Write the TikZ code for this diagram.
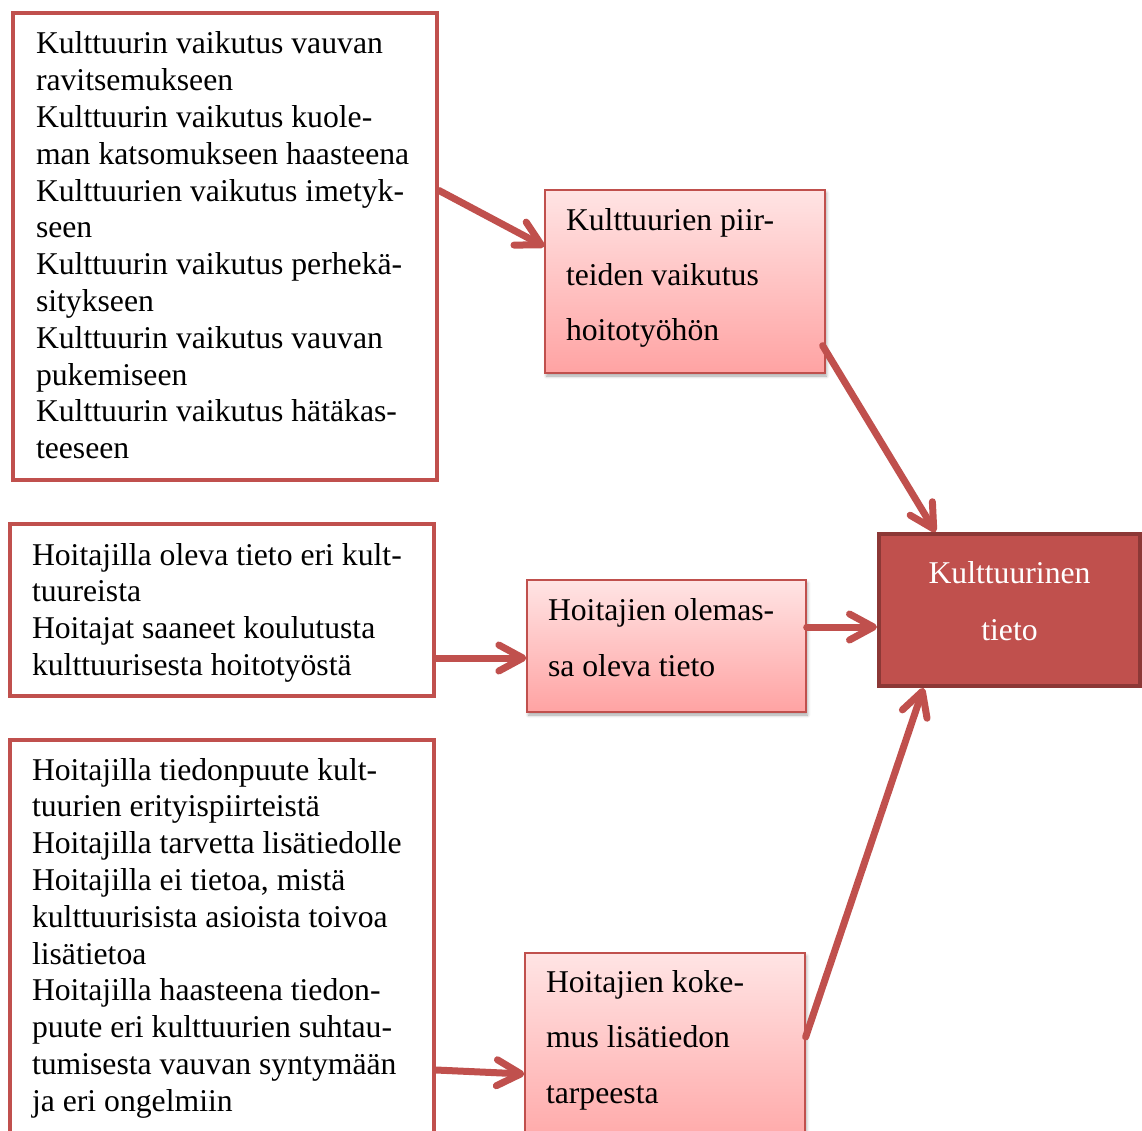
\documentclass[tikz,border=0pt]{standalone}
\usepackage{fontspec}
\setmainfont{Liberation Serif}
\usetikzlibrary{arrows.meta,shadows.blur,calc}
\definecolor{accred}{HTML}{C0504D}
\definecolor{darkred}{HTML}{8C3836}
\definecolor{pinktop}{HTML}{FFE4E4}
\definecolor{pinkbot}{HTML}{FFA3A3}
\newcommand{\mylines}[3]{\parbox[t]{#1pt}{\fontsize{31.7}{#2}\selectfont\raggedright #3}}
\begin{document}
\begin{tikzpicture}[x=1pt,y=-1pt,
  outbox/.style={rectangle, draw=accred, line width=4pt, fill=white, inner sep=0pt},
  midbox/.style={rectangle, draw=accred, line width=1.3pt, top color=pinktop, bottom color=pinkbot, inner sep=0pt,
    blur shadow={shadow xshift=1.5pt, shadow yshift=-3pt, shadow blur radius=3pt, shadow opacity=35}},
  keybox/.style={rectangle, draw=darkred, line width=4pt, fill=accred, inner sep=0pt},
  txt/.style={anchor=base west, inner sep=0pt, outer sep=0pt},
  conn/.style={draw=accred, line width=7pt, line cap=round, -{Straight Barb[length=24pt, width=26pt, round]}}]
\useasboundingbox (0,0) rectangle (1142,1131);
\clip (0,0) rectangle (1142,1131);

% boxes
\node[outbox, minimum width=424pt, minimum height=467pt] (b1) at (225,246.5) {};
\node[outbox, minimum width=424pt, minimum height=172pt] (b2) at (222,610) {};
\node[outbox, minimum width=424pt, minimum height=420pt] (b3) at (222,950) {};
\node[midbox, minimum width=280pt, minimum height=183pt] (A) at (685,281.5) {};
\node[midbox, minimum width=279pt, minimum height=132pt] (B) at (666.5,646) {};
\node[midbox, minimum width=280pt, minimum height=207pt] (C) at (665,1056.5) {};
\node[keybox, minimum width=261pt, minimum height=152pt] (K) at (1009.5,610) {};

% connectors
\draw[conn] ([yshift=56pt]b1.east) -- ([yshift=35pt]A.west);
\draw[conn] ([shift={(-3pt,28pt)}]A.south east) -- ([xshift=-74pt]K.north);
\draw[conn] ([yshift=-48pt]b2.east) -- ([yshift=-12pt]B.west);
\draw[conn] ([yshift=19pt]B.east) -- ([yshift=-17pt]K.west);
\draw[conn] ([yshift=-120pt]b3.east) -- ([yshift=-17.5pt]C.west);
\draw[conn] ([yshift=19.5pt]C.east) -- ([xshift=-86pt]K.south);

% texts
\node[txt] (t1) at (36,54) {\mylines{420}{36.8}{Kulttuurin vaikutus vauvan\\ravitsemukseen\\Kulttuurin vaikutus kuole-\\man katsomukseen haasteena\\Kulttuurien vaikutus imetyk-\\seen\\Kulttuurin vaikutus perhekä-\\sitykseen\\Kulttuurin vaikutus vauvan\\pukemiseen\\Kulttuurin vaikutus hätäkas-\\teeseen}};
\node[txt] (t2) at (32,565) {\mylines{420}{36.8}{Hoitajilla oleva tieto eri kult-\\tuureista\\Hoitajat saaneet koulutusta\\kulttuurisesta hoitotyöstä}};
\node[txt] (t3) at (32,780) {\mylines{420}{36.8}{Hoitajilla tiedonpuute kult-\\tuurien erityispiirteistä\\Hoitajilla tarvetta lisätiedolle\\Hoitajilla ei tietoa, mistä\\kulttuurisista asioista toivoa\\lisätietoa\\Hoitajilla haasteena tiedon-\\puute eri kulttuurien suhtau-\\tumisesta vauvan syntymään\\ja eri ongelmiin}};
\node[txt] (tA) at (566,231) {\mylines{260}{55}{Kulttuurien piir-\\teiden vaikutus\\hoitotyöhön}};
\node[txt] (tB) at (548,620) {\mylines{260}{56}{Hoitajien olemas-\\sa oleva tieto}};
\node[txt] (tC) at (546,992) {\mylines{260}{55.5}{Hoitajien koke-\\mus lisätiedon\\tarpeesta}};
\node[anchor=base, inner sep=0pt, text=white] (tK) at (1009.5,583) {\parbox[t]{250pt}{\fontsize{31.7}{57}\selectfont\centering Kulttuurinen\\tieto}};
\end{tikzpicture}
\end{document}
